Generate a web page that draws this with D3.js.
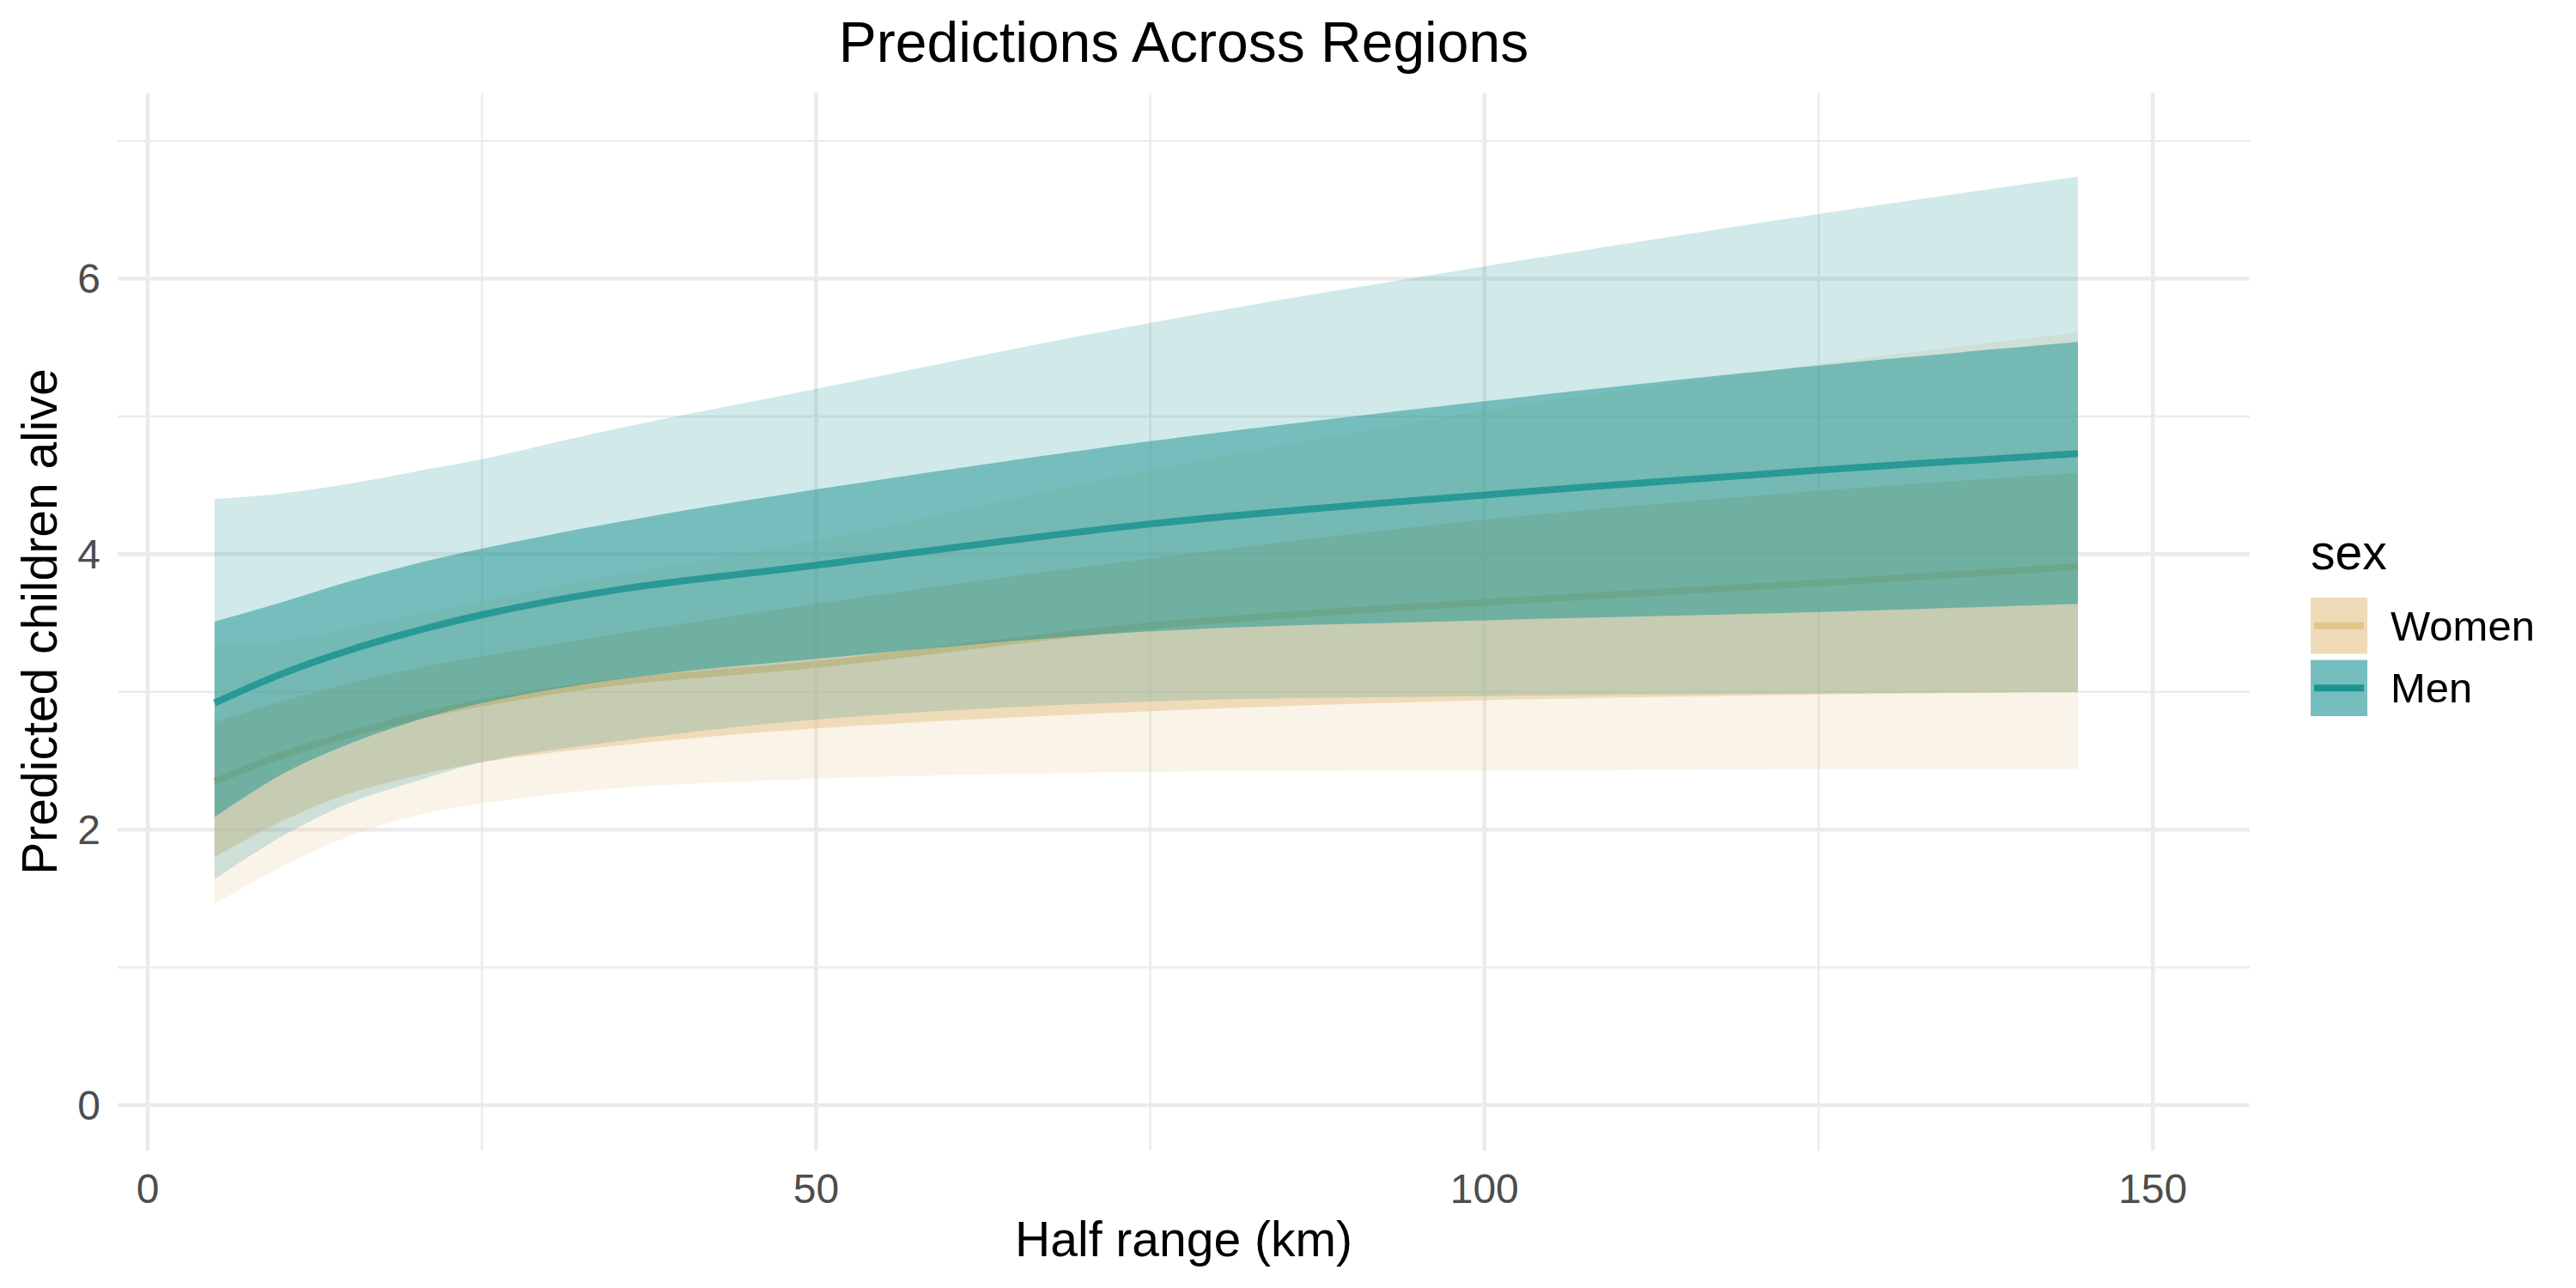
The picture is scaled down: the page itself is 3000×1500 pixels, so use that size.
<!DOCTYPE html>
<html>
<head>
<meta charset="utf-8">
<script src="https://cdn.jsdelivr.net/npm/d3@7"></script>
<style>
  html, body { margin: 0; padding: 0; background: #ffffff; }
  svg { display: block; }
  text { font-family: "Liberation Sans", Arial, Helvetica, sans-serif; }
</style>
</head>
<body>
<svg id="chart" width="3000" height="1500"></svg>
<script>
// ---- data ----
const halfRange   = [5, 10, 15, 20, 25, 35, 50, 75, 100, 125, 144.4];
const menHi95     = [4.40, 4.44, 4.51, 4.60, 4.69, 4.91, 5.20, 5.68, 6.09, 6.47, 6.74];
const menHi50     = [3.51, 3.65, 3.80, 3.93, 4.04, 4.23, 4.47, 4.82, 5.11, 5.37, 5.54];
const menMid      = [2.92, 3.13, 3.30, 3.44, 3.56, 3.74, 3.92, 4.22, 4.43, 4.61, 4.73];
const menLo50     = [2.09, 2.40, 2.62, 2.79, 2.92, 3.09, 3.24, 3.44, 3.52, 3.58, 3.64];
const menLo95     = [1.64, 1.95, 2.19, 2.35, 2.49, 2.64, 2.80, 2.93, 2.97, 2.99, 3.00];
const womenHi95   = [3.34, 3.37, 3.46, 3.56, 3.66, 3.85, 4.10, 4.61, 5.04, 5.38, 5.61];
const womenHi50   = [2.78, 2.93, 3.06, 3.17, 3.26, 3.42, 3.64, 3.97, 4.25, 4.46, 4.59];
const womenMid    = [2.35, 2.54, 2.69, 2.82, 2.92, 3.07, 3.20, 3.48, 3.65, 3.79, 3.91];
const womenLo50   = [1.80, 2.06, 2.26, 2.39, 2.49, 2.61, 2.735, 2.86, 2.94, 2.98, 3.00];
const womenLo95   = [1.46, 1.73, 1.95, 2.10, 2.19, 2.30, 2.37, 2.42, 2.43, 2.44, 2.44];

const sexes       = ["Women", "Men"];
const sexColors   = ["#E5C48A", "#1B9391"];
const xTicks      = [0, 50, 100, 150];
const xMinor      = [25, 75, 125];
const yTicks      = [0, 2, 4, 6];
const yMinor      = [1, 3, 5, 7];

const titleText   = "Predictions Across Regions";
const xTitle      = "Half range (km)";
const yTitle      = "Predicted children alive";
const legendTitle = "sex";

// ---- layout ----
const svg = d3.select("#chart");
const panel = { left: 137, right: 2620, top: 108, bottom: 1340 };

const x = d3.scaleLinear().domain([-2.25, 157.25]).range([panel.left, panel.right]);
const y = d3.scaleLinear().domain([-0.33, 7.35]).range([panel.bottom, panel.top]);

const grid = svg.append("g");
// minor grid
grid.selectAll("line.ymin").data(yMinor).join("line")
  .attr("x1", panel.left).attr("x2", panel.right)
  .attr("y1", d => y(d)).attr("y2", d => y(d))
  .attr("stroke", "#EBEBEB").attr("stroke-width", 2.4);
grid.selectAll("line.xmin").data(xMinor).join("line")
  .attr("y1", panel.top).attr("y2", panel.bottom)
  .attr("x1", d => x(d)).attr("x2", d => x(d))
  .attr("stroke", "#EBEBEB").attr("stroke-width", 2.4);
// major grid
grid.selectAll("line.ymaj").data(yTicks).join("line")
  .attr("x1", panel.left).attr("x2", panel.right)
  .attr("y1", d => y(d)).attr("y2", d => y(d))
  .attr("stroke", "#EBEBEB").attr("stroke-width", 4.6);
grid.selectAll("line.xmaj").data(xTicks).join("line")
  .attr("y1", panel.top).attr("y2", panel.bottom)
  .attr("x1", d => x(d)).attr("x2", d => x(d))
  .attr("stroke", "#EBEBEB").attr("stroke-width", 4.6);

// ---- series ----
function rows(lo, hi) { return halfRange.map((h, i) => ({ x: h, lo: lo[i], hi: hi[i] })); }
const curve = d3.curveCatmullRom.alpha(0.5);
const area = d3.area().x(d => x(d.x)).y0(d => y(d.lo)).y1(d => y(d.hi)).curve(curve);
const line = d3.line().x(d => x(d.x)).y(d => y(d.v)).curve(curve);

const series = [
  { name: "Women", color: sexColors[0], lo95: womenLo95, hi95: womenHi95, lo50: womenLo50, hi50: womenHi50, mid: womenMid, lineOpacity: 1 },
  { name: "Men",   color: sexColors[1], lo95: menLo95,   hi95: menHi95,   lo50: menLo50,   hi50: menHi50,   mid: menMid,   lineOpacity: 0.85 }
];

const marks = svg.append("g");
series.forEach(s => {
  marks.append("path").attr("d", area(rows(s.lo95, s.hi95)))
    .attr("fill", s.color).attr("fill-opacity", 0.2);
  marks.append("path").attr("d", area(rows(s.lo50, s.hi50)))
    .attr("fill", s.color).attr("fill-opacity", 0.5);
  marks.append("path").attr("d", line(halfRange.map((h, i) => ({ x: h, v: s.mid[i] }))))
    .attr("fill", "none").attr("stroke", s.color).attr("stroke-width", 8)
    .attr("stroke-opacity", s.lineOpacity);
});

// ---- axes text ----
const axisG = svg.append("g").attr("fill", "#4D4D4D").attr("font-size", 48);
axisG.selectAll("text.xt").data(xTicks).join("text")
  .attr("x", d => x(d)).attr("y", 1401).attr("text-anchor", "middle").text(d => d);
axisG.selectAll("text.yt").data(yTicks).join("text")
  .attr("x", 117).attr("y", d => y(d)).attr("dy", "0.35em").attr("text-anchor", "end").text(d => d);

svg.append("text").attr("x", (panel.left + panel.right) / 2).attr("y", 1463)
  .attr("text-anchor", "middle").attr("font-size", 57).attr("fill", "#000").text(xTitle);
svg.append("text")
  .attr("transform", `translate(66, ${(panel.top + panel.bottom) / 2}) rotate(-90)`)
  .attr("text-anchor", "middle").attr("font-size", 57).attr("fill", "#000").text(yTitle);

svg.append("text").attr("x", (panel.left + panel.right) / 2).attr("y", 72)
  .attr("text-anchor", "middle").attr("font-size", 66).attr("fill", "#000").text(titleText);

// ---- legend ----
const leg = svg.append("g").attr("transform", "translate(2691, 0)");
leg.append("text").attr("x", 0).attr("y", 663).attr("font-size", 57).attr("fill", "#000").text(legendTitle);
const keyY = d3.scaleBand().domain(sexes).range([696, 834]).paddingInner(0.1);
sexes.forEach((name, i) => {
  const g = leg.append("g").attr("transform", `translate(0, ${keyY(name)})`);
  const k = keyY.bandwidth();
  g.append("rect").attr("width", 66).attr("height", k).attr("fill", sexColors[i]).attr("fill-opacity", 0.2);
  g.append("rect").attr("width", 66).attr("height", k).attr("fill", sexColors[i]).attr("fill-opacity", 0.5);
  g.append("line").attr("x1", 4).attr("x2", 62).attr("y1", k / 2).attr("y2", k / 2)
    .attr("stroke", sexColors[i]).attr("stroke-width", 8);
  g.append("text").attr("x", 93).attr("y", k / 2).attr("dy", "0.35em")
    .attr("font-size", 49).attr("fill", "#000").text(name);
});
</script>
</body>
</html>
